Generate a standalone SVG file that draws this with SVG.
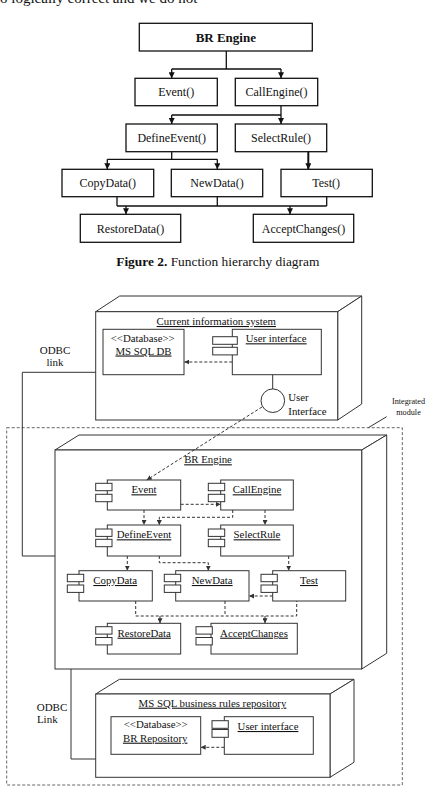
<svg xmlns="http://www.w3.org/2000/svg" width="426" height="790" viewBox="0 0 426 790">
<style>
text{font-family:"Liberation Serif","Times New Roman",serif;fill:#111}
.lbl{font-size:12px;text-anchor:middle}
.dl{font-size:10.8px;text-anchor:middle}
.u{text-decoration:underline}
.box{fill:#fff;stroke:#111;stroke-width:1.3}
.dbox{fill:#fff;stroke:#333;stroke-width:1}
.node{fill:#fff;stroke:#333;stroke-width:1}
.ico{fill:#fff;stroke:#333;stroke-width:1}
.c{fill:none;stroke:#111;stroke-width:1.3}
.ct{fill:none;stroke:#111;stroke-width:2}
.d{fill:none;stroke:#333;stroke-width:1;stroke-dasharray:3,2}
.s{fill:none;stroke:#333;stroke-width:1}
</style>
<defs>
<marker id="ah" markerUnits="userSpaceOnUse" markerWidth="6" markerHeight="6" refX="6" refY="3" orient="auto"><path d="M0,0 L6,3 L0,6 z" fill="#111"/></marker>
<marker id="ad" markerUnits="userSpaceOnUse" markerWidth="5" markerHeight="5" refX="5" refY="2.5" orient="auto"><path d="M0,0 L5,2.5 L0,5 z" fill="#333"/></marker>
</defs>
<rect width="426" height="790" fill="#fff"/>
<text x="0" y="3" style="font-size:15px">o logically correct and we do not</text>

<!-- Figure 2 function hierarchy -->
<g id="fh-br-engine"><rect class="box" x="139.3" y="23.3" width="173" height="27.7"/><text class="lbl" x="225.8" y="41.5" style="font-weight:bold;font-size:13px">BR Engine</text></g>
<g id="fh-event"><rect class="box" x="135" y="78.3" width="82.3" height="27.4"/><text class="lbl" x="176.2" y="96">Event()</text></g>
<g id="fh-callengine"><rect class="box" x="235.3" y="78.3" width="82.4" height="27.4"/><text class="lbl" x="276.5" y="96">CallEngine()</text></g>
<g id="fh-defineevent"><rect class="box" x="126" y="124" width="91.3" height="27.7"/><text class="lbl" x="171.7" y="142">DefineEvent()</text></g>
<g id="fh-selectrule"><rect class="box" x="235.3" y="124" width="91.4" height="27.7"/><text class="lbl" x="281" y="142">SelectRule()</text></g>
<g id="fh-copydata"><rect class="box" x="62" y="169.3" width="91.7" height="27.4"/><text class="lbl" x="107.8" y="187">CopyData()</text></g>
<g id="fh-newdata"><rect class="box" x="171.3" y="169.3" width="91.4" height="27.4"/><text class="lbl" x="217" y="187">NewData()</text></g>
<g id="fh-test"><rect class="box" x="281" y="169.3" width="91.3" height="27.4"/><text class="lbl" x="326.2" y="187">Test()</text></g>
<g id="fh-restoredata"><rect class="box" x="80.3" y="214.3" width="100.4" height="28"/><text class="lbl" x="130.5" y="232.5">RestoreData()</text></g>
<g id="fh-acceptchanges"><rect class="box" x="253.3" y="214.3" width="100.4" height="28"/><text class="lbl" x="303.5" y="232.5">AcceptChanges()</text></g>

<g id="fh-connectors">
<path class="c" d="M226.3,51 V69 M171.7,69 H281"/>
<path class="c" d="M171.7,69 V78.3" marker-end="url(#ah)"/>
<path class="c" d="M281,69 V78.3" marker-end="url(#ah)"/>
<path class="c" d="M281,105.7 V115 M171.7,115 H281"/>
<path class="c" d="M171.7,115 V124" marker-end="url(#ah)"/>
<path class="c" d="M281,115 V124" marker-end="url(#ah)"/>
<path class="c" d="M171.7,151.7 V159.3 M107.3,159.3 H217.3"/>
<path class="c" d="M107.3,159.3 V169.3" marker-end="url(#ah)"/>
<path class="c" d="M217.3,159.3 V169.3" marker-end="url(#ah)"/>
<path class="ct" d="M308.3,151.7 V169.3" marker-end="url(#ah)"/>
<path class="c" d="M117,196.7 V206 M217.3,196.7 V206 M326.7,196.7 V206 M117,206 H326.7"/>
<path class="c" d="M126,206 V214.3" marker-end="url(#ah)"/>
<path class="c" d="M290,206 V214.3" marker-end="url(#ah)"/>
</g>

<text x="217.8" y="266" style="font-size:13.4px;text-anchor:middle"><tspan style="font-weight:bold">Figure 2.</tspan> Function hierarchy diagram</text>

<!-- Deployment diagram -->
<g id="integrated-module">
<rect x="6.7" y="427.7" width="395.6" height="357.3" fill="none" stroke="#666" stroke-width="1" stroke-dasharray="3,2"/>
<path class="s" d="M386.7,416.7 L368.3,427.7"/>
<text x="408.5" y="404.3" style="font-size:8.2px;text-anchor:middle">Integrated</text>
<text x="408.5" y="415" style="font-size:8.2px;text-anchor:middle">module</text>
</g>

<g id="node-current-system">
<path class="node" d="M95.7,311.7 L119.7,296 H361.7 L337.7,311.7 Z"/>
<path class="node" d="M337.7,311.7 L361.7,296 V404 L337.7,420 Z"/>
<rect class="node" x="95.7" y="311.7" width="242" height="108.3"/>
<text class="dl u" x="216.3" y="325">Current information system</text>
</g>
<g id="ms-sql-db">
<rect class="dbox" x="103" y="329.3" width="81" height="45.4"/>
<text class="dl" x="142.7" y="341.7">&lt;&lt;Database&gt;&gt;</text>
<text class="dl u" x="143.5" y="354.5">MS SQL DB</text>
</g>
<g id="user-interface-1">
<rect class="dbox" x="232.3" y="329.3" width="89" height="45.4"/>
<rect class="ico" x="212.7" y="336.7" width="24.6" height="7.6"/>
<rect class="ico" x="212.7" y="347.3" width="24.6" height="7.6"/>
<text class="dl u" x="276.2" y="342.3">User interface</text>
</g>
<g id="user-interface-port">
<circle cx="272.8" cy="400.7" r="11.8" fill="#fff" stroke="#333" stroke-width="1"/>
<text x="288.3" y="401" style="font-size:10.8px">User</text>
<text x="288.3" y="414.5" style="font-size:10.8px">Interface</text>
</g>

<g id="node-br-engine">
<path class="node" d="M55,450 L79,435 H386.7 L361.7,450 Z"/>
<path class="node" d="M361.7,450 L386.7,435 V653.3 L361.7,669 Z"/>
<rect class="node" x="55" y="450" width="306.7" height="219"/>
<text class="dl u" x="208" y="463.3">BR Engine</text>
</g>
<g id="c-event"><rect class="dbox" x="107.3" y="480" width="73.4" height="30"/><rect class="ico" x="95.7" y="483.3" width="16.3" height="7.4"/><rect class="ico" x="95.7" y="494.3" width="16.3" height="7.4"/><text class="dl u" x="144" y="493.3">Event</text></g>
<g id="c-callengine"><rect class="dbox" x="220.7" y="480" width="72.6" height="30"/><rect class="ico" x="208.3" y="483.3" width="16.4" height="7.4"/><rect class="ico" x="208.3" y="494.3" width="16.4" height="7.4"/><text class="dl u" x="257" y="493.3">CallEngine</text></g>
<g id="c-defineevent"><rect class="dbox" x="107.3" y="525" width="73.4" height="31"/><rect class="ico" x="95.7" y="529" width="16.3" height="7.4"/><rect class="ico" x="95.7" y="539.3" width="16.3" height="7.4"/><text class="dl u" x="144" y="538.3">DefineEvent</text></g>
<g id="c-selectrule"><rect class="dbox" x="220.7" y="525" width="72.6" height="31"/><rect class="ico" x="208.3" y="529" width="16.4" height="7.4"/><rect class="ico" x="208.3" y="539.3" width="16.4" height="7.4"/><text class="dl u" x="257" y="538.3">SelectRule</text></g>
<g id="c-copydata"><rect class="dbox" x="79" y="570.7" width="73.3" height="30.3"/><rect class="ico" x="67.3" y="574.3" width="16.4" height="7.4"/><rect class="ico" x="67.3" y="585" width="16.4" height="7.4"/><text class="dl u" x="115.2" y="584">CopyData</text></g>
<g id="c-newdata"><rect class="dbox" x="175.7" y="570.7" width="73.3" height="30.3"/><rect class="ico" x="164.3" y="574.3" width="16.4" height="7.4"/><rect class="ico" x="164.3" y="585" width="16.4" height="7.4"/><text class="dl u" x="212.2" y="584">NewData</text></g>
<g id="c-test"><rect class="dbox" x="272.7" y="570.7" width="73" height="30.3"/><rect class="ico" x="261" y="574.3" width="16.3" height="7.4"/><rect class="ico" x="261" y="585" width="16.3" height="7.4"/><text class="dl u" x="309" y="584">Test</text></g>
<g id="c-restoredata"><rect class="dbox" x="107.3" y="623.3" width="73.4" height="30.7"/><rect class="ico" x="95.7" y="626.7" width="16.3" height="7.4"/><rect class="ico" x="95.7" y="637.5" width="16.3" height="7.4"/><text class="dl u" x="144.2" y="636.7">RestoreData</text></g>
<g id="c-acceptchanges"><rect class="dbox" x="211" y="623.3" width="86.3" height="30.7"/><rect class="ico" x="196" y="626.7" width="16.3" height="7.4"/><rect class="ico" x="196" y="637.5" width="16.3" height="7.4"/><text class="dl u" x="254" y="636.7">AcceptChanges</text></g>

<g id="node-br-repository">
<path class="node" d="M95.7,694 L119.4,679.3 H354 L330,694 Z"/>
<path class="node" d="M330,694 L354,679.3 V762.3 L330,777.3 Z"/>
<rect class="node" x="95.7" y="694" width="234.3" height="83.3"/>
<text class="dl u" x="212.5" y="706.7">MS SQL business rules repository</text>
</g>
<g id="br-repository-db">
<rect class="dbox" x="111" y="716.7" width="89.7" height="37.6"/>
<text class="dl" x="155.7" y="728.3">&lt;&lt;Database&gt;&gt;</text>
<text class="dl u" x="155.2" y="741.7">BR Repository</text>
</g>
<g id="user-interface-2">
<rect class="dbox" x="224.3" y="716.7" width="89" height="37.6"/>
<rect class="ico" x="212" y="720.7" width="16.3" height="7.6"/>
<rect class="ico" x="212" y="729.5" width="16.3" height="7.8"/>
<text class="dl u" x="268" y="730">User interface</text>
</g>

<g id="odbc-labels">
<text x="55" y="354" style="font-size:11px;text-anchor:middle">ODBC</text>
<text x="55" y="365.5" style="font-size:11px;text-anchor:middle">link</text>
<text x="36.7" y="711" style="font-size:11px">ODBC</text>
<text x="36.9" y="722.7" style="font-size:11px">Link</text>
</g>

<g id="deployment-connectors">
<path class="s" d="M95.7,372.3 H22.3 V556 H55"/>
<path class="s" d="M71,669 V759 H95.7"/>
<path class="s" d="M272.7,374.7 V389"/>
<path class="d" d="M232.3,362 H184.3" marker-end="url(#ad)"/>
<path class="d" d="M262,407 L146.7,480" marker-end="url(#ad)"/>
<path class="d" d="M180.7,504.3 H220.7" marker-end="url(#ad)"/>
<path class="d" d="M144,510 V525" marker-end="url(#ad)"/>
<path class="d" d="M232.7,510 V517.3 H159.3 V525" marker-end="url(#ad)"/>
<path class="d" d="M265,510 V525" marker-end="url(#ad)"/>
<path class="d" d="M127.3,556 V570.7" marker-end="url(#ad)"/>
<path class="d" d="M159.3,556 V562.7 H208.3 V570.7" marker-end="url(#ad)"/>
<path class="d" d="M288.7,556 V570.7" marker-end="url(#ad)"/>
<path class="d" d="M272.7,596 H249" marker-end="url(#ad)"/>
<path class="d" d="M135.7,601 V616 H296.7 V601 M225,601 V616"/>
<path class="d" d="M160,616 V623.3" marker-end="url(#ad)"/>
<path class="d" d="M265,616 V623.3" marker-end="url(#ad)"/>
<path class="d" d="M224.3,747.3 H200.7" marker-end="url(#ad)"/>
</g>
</svg>
